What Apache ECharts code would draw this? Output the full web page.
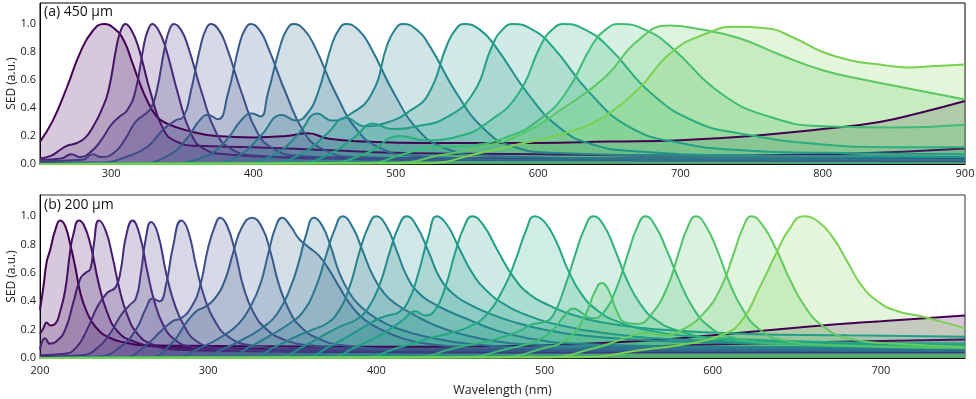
<!DOCTYPE html>
<html>
<head>
<meta charset="utf-8">
<script src="https://cdn.jsdelivr.net/npm/echarts@6/dist/echarts.min.js"></script>
<style>
html,body{margin:0;padding:0;background:#fff}
#chart{width:976px;height:399px}
</style>
</head>
<body>
<div id="chart"></div>
<script>
/*** (a) 450 um : [wavelength nm, SED] ***/
var a295 = [[250,0.16],[259,0.31],[269,0.55],[278,0.79],[287,0.95],[295,1.0],[303,0.96],[309,0.88],[315,0.72],[320,0.58],[325,0.46],[332,0.34],[339,0.29],[353,0.24],[374,0.2],[400,0.19],[423,0.2],[438,0.22],[453,0.18],[480,0.16],[520,0.15],[600,0.15],[650,0.16],[700,0.17],[750,0.2],[800,0.25],[840,0.3],[870,0.37],[900,0.45]];
var a310 = [[250,0.04],[258,0.06],[264,0.1],[269,0.13],[276,0.15],[282,0.19],[288,0.28],[293,0.38],[298,0.52],[304,0.85],[307,0.96],[310,1.0],[314,0.96],[319,0.84],[328,0.5],[337,0.24],[346,0.16],[360,0.13],[400,0.12],[450,0.1],[500,0.08],[600,0.07],[700,0.06],[800,0.07],[860,0.09],[900,0.11]];
var a329 = [[250,0.03],[265,0.04],[272,0.07],[278,0.05],[286,0.09],[293,0.17],[300,0.28],[306,0.34],[311,0.38],[317,0.52],[323,0.85],[326,0.96],[329,1.0],[333,0.96],[338,0.84],[347,0.5],[356,0.22],[365,0.11],[380,0.07],[420,0.05],[600,0.04],[900,0.04]];
var a344 = [[250,0.02],[280,0.03],[287,0.07],[293,0.05],[302,0.08],[310,0.18],[317,0.3],[323,0.35],[328,0.4],[332,0.52],[338,0.85],[341,0.96],[344,1.0],[349,0.96],[354,0.84],[364,0.5],[374,0.22],[384,0.11],[400,0.06],[450,0.04],[900,0.03]];
var a370 = [[250,0.01],[295,0.01],[310,0.05],[325,0.12],[337,0.25],[345,0.31],[351,0.34],[356,0.52],[363,0.85],[366.5,0.96],[370,1.0],[375.5,0.96],[381,0.84],[392,0.5],[403,0.22],[414,0.11],[430,0.06],[500,0.03],[900,0.02]];
var a398 = [[250,0],[320,0.005],[340,0.06],[353,0.18],[362,0.31],[368,0.35],[375,0.32],[382,0.5],[390,0.85],[394,0.96],[398,1.0],[404,0.96],[410,0.84],[423,0.5],[436,0.22],[448,0.11],[470,0.05],[600,0.03],[900,0.03]];
var a428 = [[250,0],[340,0.005],[365,0.05],[380,0.16],[392,0.32],[399,0.36],[405,0.34],[410,0.5],[419,0.85],[423.5,0.96],[428,1.0],[435.5,0.96],[443,0.84],[458,0.5],[473,0.24],[488,0.12],[510,0.06],[600,0.03],[900,0.03]];
var a465 = [[250,0],[370,0.005],[390,0.06],[405,0.2],[420,0.35],[430,0.31],[437,0.35],[445,0.5],[455,0.85],[460,0.96],[465,1.0],[473.5,0.96],[482,0.84],[499,0.5],[516,0.24],[533,0.12],[560,0.06],[650,0.04],[900,0.03]];
var a505 = [[250,0],[390,0.005],[415,0.07],[432,0.22],[445,0.36],[455,0.31],[467,0.35],[483,0.5],[494,0.85],[499.5,0.96],[505,1.0],[514.5,0.96],[524,0.84],[543,0.5],[562,0.25],[581,0.13],[610,0.08],[700,0.06],[900,0.05]];
var a548 = [[250,0],[410,0.005],[435,0.08],[452,0.22],[465,0.33],[478,0.27],[495,0.3],[510,0.38],[523,0.5],[536,0.85],[542,0.96],[548,1.0],[559,0.96],[570,0.84],[593,0.5],[615,0.26],[638,0.14],[670,0.09],[750,0.06],[900,0.05]];
var a582 = [[250,0],[430,0.005],[455,0.08],[472,0.2],[484,0.29],[497,0.25],[515,0.27],[535,0.33],[554,0.5],[568,0.85],[575,0.96],[582,1.0],[596,0.96],[610,0.84],[637,0.5],[665,0.26],[700,0.15],[741,0.1],[800,0.08],[900,0.07]];
var a618 = [[250,0],[450,0.005],[480,0.08],[503,0.2],[520,0.17],[545,0.2],[565,0.3],[586,0.5],[602,0.85],[610,0.96],[618,1.0],[633,0.96],[649,0.84],[680,0.5],[711,0.3],[741,0.22],[800,0.14],[850,0.12],[900,0.12]];
var a657 = [[250,0],[480,0.005],[505,0.07],[525,0.12],[550,0.13],[580,0.2],[600,0.31],[619,0.5],[638,0.85],[647.5,0.96],[657,1.0],[675,0.96],[693,0.84],[729,0.5],[765,0.33],[800,0.27],[850,0.26],[900,0.28]];
var a692 = [[250,0],[500,0.005],[530,0.06],[560,0.12],[590,0.22],[615,0.38],[647,0.62],[670,0.88],[692,0.99],[715,0.96],[741,0.9],[770,0.78],[800,0.67],[830,0.6],[860,0.54],[900,0.46]];
var a738 = [[250,0],[520,0.005],[560,0.08],[590,0.15],[605,0.18],[625,0.24],[640,0.3],[655,0.4],[671,0.54],[694,0.8],[718,0.93],[738,0.98],[760,0.97],[780,0.9],[800,0.8],[820,0.74],[840,0.71],[860,0.69],[880,0.7],[900,0.71]];

/*** (b) 200 um ***/
var b212 = [[200,0.34],[202,0.5],[204,0.68],[206,0.76],[209,0.9],[212,0.97],[215,0.93],[218,0.8],[221,0.64],[224,0.46],[228,0.32],[233,0.22],[240,0.15],[250,0.11],[265,0.09],[300,0.085],[400,0.08],[450,0.08],[500,0.09],[557,0.12],[600,0.16],[656,0.22],[700,0.26],[750,0.3]];
var b223 = [[200,0.17],[202,0.21],[204,0.25],[206,0.23],[209,0.24],[212,0.33],[215,0.48],[218,0.76],[220,0.88],[223,0.97],[226,0.94],[230,0.8],[235,0.52],[240,0.32],[246,0.19],[255,0.12],[270,0.08],[300,0.07],[400,0.06],[500,0.06],[557,0.08],[650,0.11],[750,0.13]];
var b235 = [[200,0.06],[203,0.14],[206,0.1],[210,0.12],[215,0.2],[220,0.4],[224,0.56],[227,0.6],[230,0.63],[232,0.8],[235,0.97],[239,0.9],[243,0.72],[247,0.5],[252,0.3],[258,0.17],[266,0.1],[280,0.06],[320,0.05],[500,0.04],[750,0.05]];
var b255 = [[200,0.02],[215,0.03],[222,0.08],[228,0.2],[234,0.36],[240,0.46],[245,0.5],[248,0.62],[251,0.85],[255,0.97],[259,0.88],[264,0.6],[268,0.4],[273,0.24],[280,0.13],[290,0.08],[320,0.05],[500,0.04],[750,0.04]];
var b266 = [[200,0.01],[225,0.02],[235,0.08],[242,0.18],[248,0.3],[253,0.37],[257,0.42],[260,0.6],[263,0.85],[266,0.96],[270,0.88],[275,0.6],[280,0.38],[286,0.22],[293,0.12],[305,0.07],[340,0.05],[500,0.04],[750,0.04]];
var b284 = [[200,0],[235,0.01],[248,0.08],[257,0.2],[263,0.35],[267,0.42],[271,0.4],[275,0.52],[279,0.78],[284,0.97],[288,0.9],[293,0.64],[298,0.42],[304,0.26],[312,0.15],[325,0.09],[360,0.06],[500,0.05],[750,0.05]];
var b307 = [[200,0],[250,0.005],[262,0.08],[272,0.19],[279,0.26],[284,0.28],[290,0.36],[295,0.5],[300,0.78],[304,0.93],[307,0.99],[311,0.94],[316,0.75],[321,0.5],[327,0.32],[335,0.2],[345,0.13],[360,0.09],[400,0.06],[500,0.05],[750,0.05]];
var b326 = [[200,0],[265,0.005],[278,0.1],[287,0.25],[293,0.33],[298,0.36],[304,0.42],[310,0.55],[315,0.75],[320,0.92],[326,0.99],[332,0.92],[337,0.75],[342,0.52],[348,0.34],[355,0.22],[365,0.14],[380,0.09],[420,0.06],[550,0.05],[750,0.05]];
var b344 = [[200,0],[280,0.005],[295,0.07],[308,0.15],[318,0.24],[325,0.36],[331,0.52],[336,0.75],[340,0.92],[344,0.99],[349,0.93],[354,0.84],[360,0.78],[366,0.72],[372,0.62],[378,0.5],[385,0.37],[393,0.27],[403,0.2],[415,0.14],[430,0.1],[460,0.07],[550,0.06],[750,0.05]];
var b363 = [[200,0],[295,0.005],[310,0.07],[322,0.14],[333,0.22],[342,0.33],[349,0.5],[354,0.68],[358,0.86],[363,0.99],[368,0.93],[373,0.78],[378,0.6],[384,0.46],[391,0.36],[400,0.28],[412,0.21],[430,0.15],[455,0.1],[500,0.07],[600,0.06],[750,0.05]];
var b380 = [[200,0],[310,0.005],[325,0.08],[337,0.16],[348,0.24],[356,0.32],[364,0.5],[370,0.72],[375,0.9],[380,1.0],[386,0.92],[392,0.75],[398,0.58],[405,0.45],[413,0.37],[423,0.3],[435,0.23],[450,0.17],[470,0.12],[500,0.09],[600,0.07],[750,0.06]];
var b400 = [[200,0],[325,0.005],[340,0.08],[352,0.15],[362,0.2],[370,0.24],[377,0.32],[384,0.5],[390,0.75],[395,0.92],[400,1.0],[406,0.93],[412,0.76],[418,0.58],[425,0.46],[433,0.39],[443,0.33],[455,0.27],[470,0.2],[490,0.14],[520,0.1],[600,0.08],[750,0.07]];
var b418 = [[200,0],[340,0.005],[358,0.09],[370,0.17],[380,0.23],[388,0.27],[395,0.35],[402,0.52],[408,0.75],[413,0.92],[418,1.0],[424,0.93],[431,0.75],[438,0.56],[446,0.45],[455,0.38],[466,0.32],[480,0.26],[500,0.2],[530,0.15],[570,0.12],[650,0.1],[750,0.09]];
var b436 = [[200,0],[355,0.005],[375,0.1],[390,0.2],[400,0.27],[407,0.3],[413,0.32],[419,0.4],[425,0.6],[431,0.86],[436,1.0],[442,0.94],[449,0.78],[457,0.6],[466,0.47],[476,0.38],[490,0.3],[510,0.23],[540,0.17],[580,0.13],[650,0.11],[750,0.1]];
var b457 = [[200,0],[370,0.005],[390,0.09],[405,0.18],[416,0.27],[423,0.33],[429,0.3],[435,0.34],[441,0.5],[447,0.75],[452,0.92],[457,1.0],[464,0.93],[472,0.76],[481,0.58],[491,0.45],[503,0.37],[518,0.3],[540,0.24],[570,0.2],[620,0.17],[680,0.16],[750,0.15]];
var b494 = [[200,0],[390,0.005],[415,0.08],[432,0.14],[445,0.18],[455,0.22],[465,0.3],[476,0.5],[483,0.7],[489,0.9],[494,1.0],[500,0.96],[507,0.82],[514,0.62],[522,0.45],[532,0.33],[545,0.25],[560,0.2],[580,0.16],[620,0.13],[680,0.11],[750,0.1]];
var b529 = [[200,0],[420,0.005],[450,0.08],[470,0.13],[485,0.19],[493,0.24],[499,0.25],[505,0.3],[512,0.5],[518,0.72],[524,0.92],[529,1.0],[535,0.94],[542,0.76],[549,0.55],[557,0.38],[566,0.27],[580,0.19],[600,0.14],[650,0.1],[750,0.08]];
var b560 = [[200,0],[450,0.005],[480,0.07],[495,0.12],[505,0.2],[512,0.3],[517,0.35],[522,0.32],[528,0.28],[535,0.32],[543,0.5],[550,0.75],[555,0.92],[560,1.0],[566,0.93],[573,0.75],[580,0.55],[588,0.36],[597,0.23],[610,0.15],[640,0.1],[700,0.08],[750,0.07]];
var b590 = [[200,0],[470,0.005],[500,0.07],[515,0.15],[524,0.3],[530,0.47],[534,0.53],[538,0.48],[543,0.33],[548,0.25],[555,0.24],[563,0.3],[573,0.5],[580,0.75],[585,0.92],[590,1.0],[596,0.93],[603,0.75],[610,0.53],[618,0.34],[627,0.21],[640,0.13],[670,0.09],[750,0.07]];
var b623 = [[200,0],[500,0.005],[530,0.07],[548,0.14],[560,0.18],[570,0.16],[582,0.2],[595,0.32],[605,0.5],[612,0.72],[618,0.92],[623,1.0],[630,0.93],[638,0.76],[646,0.55],[655,0.36],[665,0.23],[680,0.14],[710,0.1],[750,0.08]];
var b654 = [[200,0],[520,0.005],[560,0.06],[585,0.1],[605,0.16],[617,0.26],[628,0.5],[637,0.72],[645,0.9],[654,1.0],[663,0.96],[672,0.84],[680,0.68],[688,0.52],[698,0.4],[710,0.33],[722,0.3],[735,0.26],[750,0.21]];

var curvesA = [a295,a310,a329,a344,a370,a398,a428,a465,a505,a548,a582,a618,a657,a692,a738];
var curvesB = [b212,b223,b235,b255,b266,b284,b307,b326,b344,b363,b380,b400,b418,b436,b457,b494,b529,b560,b590,b623,b654];

// viridis stops 0..0.8
var vStops = ['#440154','#482475','#414487','#355f8d','#2a788e','#21918c','#22a884','#44bf70','#7ad151'];
function hex2rgb(h){ return [parseInt(h.substr(1,2),16),parseInt(h.substr(3,2),16),parseInt(h.substr(5,2),16)]; }
function viridis(t) {
    var p = t / 0.1;
    var i = Math.min(Math.floor(p), vStops.length - 2);
    var f = p - i;
    var c1 = hex2rgb(vStops[i]), c2 = hex2rgb(vStops[i+1]);
    return [0,1,2].map(function (k) { return Math.round(c1[k] + (c2[k]-c1[k])*f); });
}

function buildSeries(curves, axisIdx) {
    var out = [];
    var n = curves.length;
    curves.forEach(function (pts, i) {
        var c = viridis(i / (n - 1) * 0.8);
        var col = 'rgb(' + c.join(',') + ')';
        out.push({
            type: 'line',
            xAxisIndex: axisIdx,
            yAxisIndex: axisIdx,
            data: pts,
            smooth: 0.5,
            showSymbol: false,
            silent: true,
            lineStyle: { color: col, width: 2 },
            itemStyle: { color: col },
            areaStyle: { color: 'rgba(' + c.join(',') + ',0.3)', origin: 'start' }
        });
    });
    return out;
}

var chart = echarts.init(document.getElementById('chart'));

function xAx(idx, mn, mx, margin) {
    return {
        type: 'value', gridIndex: idx, min: mn, max: mx, interval: 50,
        axisLine: { show: true, lineStyle: { color: '#000', width: 1 } },
        axisTick: { show: false },
        splitLine: { show: false },
        axisLabel: {
            margin: margin, color: '#222', fontSize: 11,
            formatter: function (v) { return v % 100 === 0 ? String(v) : ''; }
        }
    };
}
function yAx(idx) {
    return {
        type: 'value', gridIndex: idx, min: 0, max: 1.15, interval: 0.2,
        name: 'SED (a.u.)', nameLocation: 'middle', nameGap: 22, nameMoveOverlap: false,
        nameTextStyle: { fontSize: 12, color: '#222' },
        axisLine: { show: true, lineStyle: { color: '#000', width: 1 } },
        axisTick: { show: false },
        splitLine: { show: false },
        axisLabel: {
            margin: 4, color: '#222', fontSize: 11,
            formatter: function (v) {
                var r = Math.round(v * 5);
                return (Math.abs(v * 5 - r) < 1e-6 && v < 1.01) ? v.toFixed(1) : '';
            }
        }
    };
}

var xa = xAx(0, 250, 900, 4);
var xb = xAx(1, 200, 750, 7);
xb.name = 'Wavelength (nm)';
xb.nameLocation = 'middle';
xb.nameGap = 26;
xb.nameMoveOverlap = false;
xb.nameTextStyle = { fontSize: 12.5, color: '#222' };

option = {
    animation: false,
    textStyle: { fontFamily: '"Open Sans", sans-serif' },
    grid: [
        { left: 40, right: 11, top: 3, height: 161, show: true, borderColor: '#000', borderWidth: 1, containLabel: false, outerBoundsMode: 'none' },
        { left: 40, right: 11, top: 195, height: 163, show: true, borderColor: '#333', borderWidth: 1, containLabel: false, outerBoundsMode: 'none' }
    ],
    xAxis: [xa, xb],
    yAxis: [yAx(0), yAx(1)],
    graphic: [
        { type: 'text', left: 44, top: 5, z: 100, style: { text: '(a) 450 µm', font: '14px "Open Sans"', fill: '#111' } },
        { type: 'text', left: 44, top: 198, z: 100, style: { text: '(b) 200 µm', font: '14px "Open Sans"', fill: '#111' } }
    ],
    series: buildSeries(curvesA, 0).concat(buildSeries(curvesB, 1))
};
chart.setOption(option);
</script>
</body>
</html>
